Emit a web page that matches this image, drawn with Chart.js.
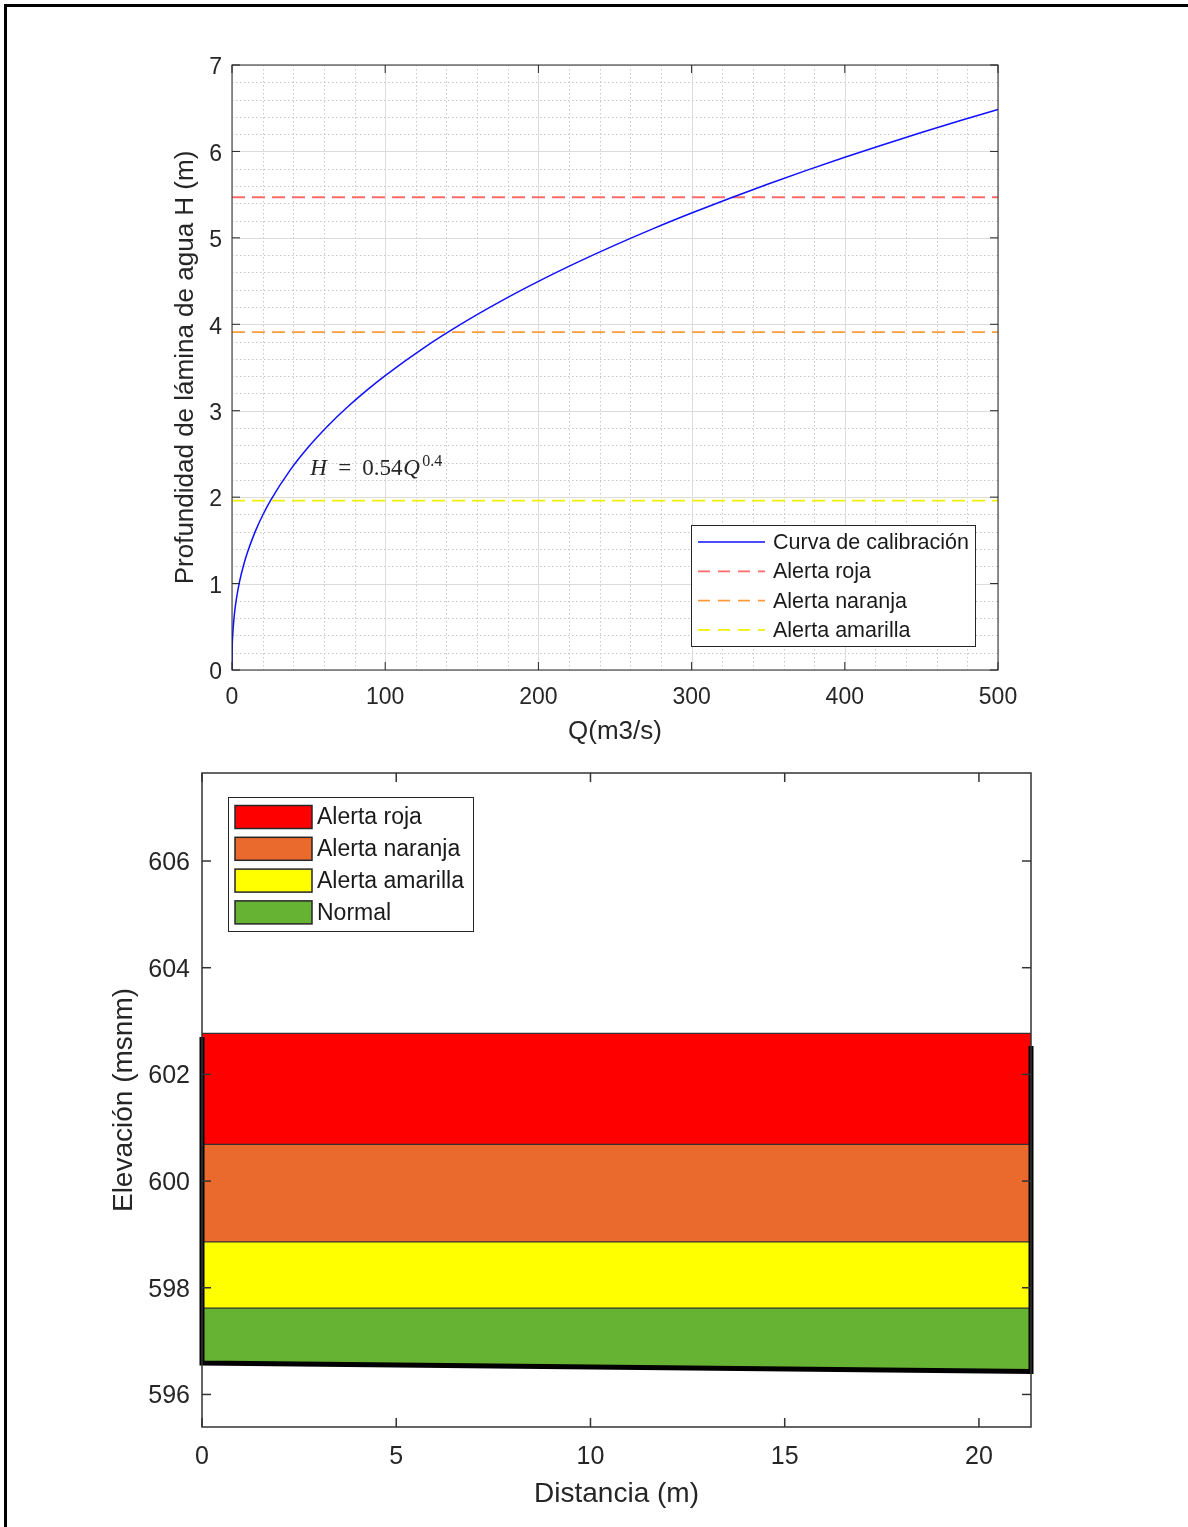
<!DOCTYPE html>
<html lang="es">
<head>
<meta charset="UTF-8">
<title>Curva de calibración y niveles de alerta</title>
<script src="https://cdn.jsdelivr.net/npm/chart.js"></script>
<style>
  body { margin: 0; background: #fff; }
  #page { position: relative; width: 1188px; height: 1527px; overflow: hidden; background: #fff; }
  #frame { position: absolute; left: 4px; top: 4px; width: 1300px; height: 1600px; border-top: 3px solid #000; border-left: 3px solid #000; }
  canvas { position: absolute; left: 0; }
  #topChart { top: 0; }
  #bottomChart { top: 746px; }
</style>
</head>
<body>
<div id="page">
  <div id="frame"></div>
  <canvas id="topChart" width="1188" height="760"></canvas>
  <canvas id="bottomChart" width="1188" height="781"></canvas>
</div>
<script>
// curva de calibracion H-Q
const caudal = [0, 0.1, 0.5, 1, 2, 3, 5, 7.5, 10, 15, 20, 25, 37.5, 50, 62.5, 75, 87.5, 100, 125, 150, 175, 200, 225, 250, 275, 300, 325, 350, 375, 400, 425, 450, 475, 500];
const profundidad = [0, 0.215, 0.409, 0.540, 0.713, 0.838, 1.028, 1.209, 1.356, 1.595, 1.790, 1.957, 2.301, 2.582, 2.823, 3.037, 3.230, 3.407, 3.725, 4.007, 4.262, 4.496, 4.713, 4.916, 5.107, 5.287, 5.459, 5.624, 5.781, 5.932, 6.078, 6.218, 6.354, 6.486];
const alertaNombres = ['Alerta roja', 'Alerta naranja', 'Alerta amarilla'];
const alertaH = [5.47, 3.91, 1.96];
const alertaColores = ['#ff6a6a', '#ff9a3c', '#f0f000'];
const caudalTicks = [0, 100, 200, 300, 400, 500];
const hTicks = [0, 1, 2, 3, 4, 5, 6, 7];
const ecuacionQ = 51, ecuacionH = 2.26;

// seccion transversal con franjas de alerta
const distancia = [0, 21.34];
const fondo = [596.59, 596.43];
const franjaNombres = ['Normal', 'Alerta amarilla', 'Alerta naranja', 'Alerta roja'];
const franjaTope = [597.62, 598.86, 600.69, 602.77];
const franjaColores = ['#66b333', '#ffff00', '#e96a2c', '#ff0000'];
const orillaX = [0, 0, 21.34, 21.34];
const orillaY = [602.70, 596.59, 596.43, 602.53];
const distTicks = [0, 5, 10, 15, 20];
const elevTicks = [596, 598, 600, 602, 604, 606];

Chart.defaults.font.family = "'Liberation Sans', Arial, sans-serif";
Chart.defaults.color = '#262626';

function seg(ctx, x1, y1, x2, y2) {
  ctx.beginPath();
  ctx.moveTo(x1, y1);
  ctx.lineTo(x2, y2);
  ctx.stroke();
}

// grid, caja y marcas hacia adentro al estilo matlab
const boxAxes = {
  id: 'boxAxes',
  beforeDatasetsDraw(chart, args, o) {
    if (!o.grid) return;
    const { ctx, chartArea: a, scales: { x, y } } = chart;
    ctx.save();
    ctx.lineWidth = 1;
    ctx.strokeStyle = o.minorColor;
    ctx.setLineDash([1.5, 2.5]);
    for (let v = x.min + o.minorX; v < x.max - 1e-9; v += o.minorX) {
      const px = Math.round(x.getPixelForValue(v)) + 0.5;
      seg(ctx, px, a.top, px, a.bottom);
    }
    for (let v = y.min + o.minorY; v < y.max - 1e-9; v += o.minorY) {
      const py = Math.round(y.getPixelForValue(v)) + 0.5;
      seg(ctx, a.left, py, a.right, py);
    }
    ctx.setLineDash([]);
    ctx.strokeStyle = o.majorColor;
    x.ticks.forEach(t => {
      const px = Math.round(x.getPixelForValue(t.value)) + 0.5;
      seg(ctx, px, a.top, px, a.bottom);
    });
    y.ticks.forEach(t => {
      const py = Math.round(y.getPixelForValue(t.value)) + 0.5;
      seg(ctx, a.left, py, a.right, py);
    });
    ctx.restore();
  },
  afterDatasetsDraw(chart, args, o) {
    const { ctx, chartArea: a, scales: { x, y } } = chart;
    ctx.save();
    ctx.strokeStyle = o.color;
    ctx.lineWidth = o.width;
    const L = o.tickLength;
    x.ticks.forEach(t => {
      const px = x.getPixelForValue(t.value);
      seg(ctx, px, a.bottom, px, a.bottom - L);
      seg(ctx, px, a.top, px, a.top + L);
    });
    y.ticks.forEach(t => {
      const py = y.getPixelForValue(t.value);
      seg(ctx, a.left, py, a.left + L, py);
      seg(ctx, a.right, py, a.right - L, py);
    });
    ctx.strokeRect(a.left, a.top, a.right - a.left, a.bottom - a.top);
    ctx.restore();
  }
};

// leyenda con recuadro dentro del area del grafico
const boxLegend = {
  id: 'boxLegend',
  afterDraw(chart, args, o) {
    const { ctx } = chart;
    let items = chart.data.datasets.filter(d => d.label && !d.noLegend);
    if (o.reverse) items = items.slice().reverse();
    ctx.save();
    ctx.fillStyle = '#fff';
    ctx.fillRect(o.left, o.top, o.width, o.height);
    ctx.strokeStyle = '#262626';
    ctx.lineWidth = 1;
    ctx.strokeRect(o.left + 0.5, o.top + 0.5, o.width, o.height);
    ctx.font = o.fontSize + "px 'Liberation Sans', Arial, sans-serif";
    ctx.textBaseline = 'middle';
    items.forEach((d, i) => {
      const cy = o.firstY + i * o.rowH;
      if (o.kind === 'line') {
        ctx.strokeStyle = d.borderColor;
        ctx.lineWidth = d.borderWidth;
        ctx.setLineDash(d.legendDash || []);
        seg(ctx, o.sampleX1, cy, o.sampleX2, cy);
        ctx.setLineDash([]);
      } else {
        ctx.fillStyle = d.backgroundColor;
        ctx.fillRect(o.sampleX1, cy - o.swatchH / 2, o.sampleX2 - o.sampleX1, o.swatchH);
        ctx.strokeStyle = '#262626';
        ctx.lineWidth = 1.5;
        ctx.strokeRect(o.sampleX1, cy - o.swatchH / 2, o.sampleX2 - o.sampleX1, o.swatchH);
      }
      ctx.fillStyle = '#1a1a1a';
      ctx.fillText(d.label, o.textX, cy + 1);
    });
    ctx.restore();
  }
};

// ecuacion de la curva (tipo LaTeX)
const ecuacion = {
  id: 'ecuacion',
  afterDatasetsDraw(chart) {
    const { ctx, scales: { x, y } } = chart;
    const x0 = x.getPixelForValue(ecuacionQ);
    const y0 = y.getPixelForValue(ecuacionH);
    const big = "23px 'Liberation Serif', 'DejaVu Serif', serif";
    const small = "16px 'Liberation Serif', 'DejaVu Serif', serif";
    const parts = [
      { t: 'H', f: 'italic ' + big, dx: 0, dy: 0 },
      { t: '=', f: big, dx: 28, dy: 0 },
      { t: '0.54', f: big, dx: 52, dy: 0 },
      { t: 'Q', f: 'italic ' + big, dx: 93, dy: 0 },
      { t: '0.4', f: small, dx: 112, dy: -9 }
    ];
    ctx.save();
    ctx.fillStyle = '#262626';
    ctx.textBaseline = 'alphabetic';
    parts.forEach(p => {
      ctx.font = p.f;
      ctx.fillText(p.t, x0 + p.dx, y0 + p.dy);
    });
    ctx.restore();
  }
};

new Chart(document.getElementById('topChart'), {
  type: 'line',
  data: {
    datasets: [
      {
        label: 'Curva de calibración',
        data: caudal.map((q, i) => ({ x: q, y: profundidad[i] })),
        borderColor: '#1010ff', borderWidth: 1.5, pointRadius: 0,
        cubicInterpolationMode: 'monotone', fill: false
      },
      ...alertaH.map((h, i) => ({
        label: alertaNombres[i],
        data: [{ x: caudal[0], y: h }, { x: caudal[caudal.length - 1], y: h }],
        borderColor: alertaColores[i], borderWidth: 1.8, borderDash: [13, 7],
        legendDash: [12, 8], pointRadius: 0, fill: false
      }))
    ]
  },
  options: {
    responsive: false, animation: false, events: [],
    layout: { padding: { left: 150, right: 190, top: 65, bottom: 0 } },
    plugins: {
      legend: { display: false }, tooltip: { enabled: false },
      boxAxes: { grid: true, minorX: 20, minorY: 0.2, minorColor: '#c8c8c8', majorColor: '#dcdcdc', color: '#262626', width: 1, tickLength: 8 },
      boxLegend: { kind: 'line', left: 691, top: 525, width: 284, height: 121, firstY: 542, rowH: 29.3, sampleX1: 698, sampleX2: 765, textX: 773, fontSize: 21.5 }
    },
    scales: {
      x: {
        type: 'linear', min: 0, max: 500,
        afterBuildTicks: s => { s.ticks = caudalTicks.map(v => ({ value: v })); },
        afterFit: s => { s.height = 90; },
        grid: { display: false, drawTicks: false }, border: { display: false },
        ticks: { padding: 14, autoSkip: false, maxRotation: 0, font: { size: 23 } },
        title: { display: true, text: 'Q(m3/s)', font: { size: 26 }, padding: { top: 0, bottom: 13 } }
      },
      y: {
        type: 'linear', min: 0, max: 7,
        afterBuildTicks: s => { s.ticks = hTicks.map(v => ({ value: v })); },
        afterFit: s => { s.width = 82; },
        grid: { display: false, drawTicks: false }, border: { display: false },
        ticks: { padding: 10, labelOffset: 3, autoSkip: false, font: { size: 23 } },
        title: { display: true, text: 'Profundidad de lámina de agua H (m)', font: { size: 26 }, padding: { top: 20, bottom: 0 } }
      }
    }
  },
  plugins: [boxAxes, ecuacion, boxLegend]
});

const franjas = franjaTope.map((tope, i) => ({
  label: franjaNombres[i],
  data: distancia.map(d => ({ x: d, y: tope })),
  borderColor: '#333333', borderWidth: 1.2,
  backgroundColor: franjaColores[i],
  pointRadius: 0, fill: '-1'
}));

new Chart(document.getElementById('bottomChart'), {
  type: 'line',
  data: {
    datasets: [
      {
        label: 'Orillas', noLegend: true,
        data: orillaX.map((d, i) => ({ x: d, y: orillaY[i] })),
        borderColor: '#000', borderWidth: 5, borderJoinStyle: 'miter',
        pointRadius: 0, fill: false, clip: 6
      },
      {
        label: 'Fondo', noLegend: true,
        data: distancia.map((d, i) => ({ x: d, y: fondo[i] })),
        borderColor: '#000', borderWidth: 1, pointRadius: 0, fill: false
      },
      ...franjas
    ]
  },
  options: {
    responsive: false, animation: false, events: [],
    layout: { padding: { left: 95, right: 157, top: 27, bottom: 0 } },
    plugins: {
      legend: { display: false }, tooltip: { enabled: false },
      boxAxes: { grid: false, color: '#333333', width: 1.5, tickLength: 9 },
      boxLegend: { kind: 'box', reverse: true, left: 228, top: 51, width: 245, height: 134, firstY: 71, rowH: 31.8, sampleX1: 235, sampleX2: 312, swatchH: 23, textX: 317, fontSize: 23 }
    },
    scales: {
      x: {
        type: 'linear', min: 0, max: 21.34,
        afterBuildTicks: s => { s.ticks = distTicks.map(v => ({ value: v })); },
        afterFit: s => { s.height = 100; },
        grid: { display: false, drawTicks: false }, border: { display: false },
        ticks: { padding: 15, autoSkip: false, maxRotation: 0, font: { size: 25 } },
        title: { display: true, text: 'Distancia (m)', font: { size: 28 }, padding: { top: 0, bottom: 16 } }
      },
      y: {
        type: 'linear', min: 595.39, max: 607.65,
        afterBuildTicks: s => { s.ticks = elevTicks.map(v => ({ value: v })); },
        afterFit: s => { s.width = 107; },
        grid: { display: false, drawTicks: false }, border: { display: false },
        ticks: { padding: 12, labelOffset: 2, autoSkip: false, font: { size: 25 } },
        title: { display: true, text: 'Elevación (msnm)', font: { size: 28 }, padding: { top: 12, bottom: 0 } }
      }
    }
  },
  plugins: [boxAxes, boxLegend]
});
</script>
</body>
</html>
